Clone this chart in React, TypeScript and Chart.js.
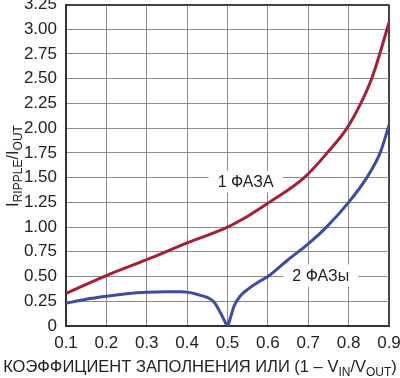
import React, { useEffect, useRef } from "react";
import { Chart, registerables } from "chart.js";
Chart.register(...registerables);

const xOnePhase = [0.1, 0.2, 0.3, 0.4, 0.5, 0.55, 0.6, 0.69, 0.747, 0.796, 0.83, 0.857, 0.877, 0.9];
const yOnePhase = [0.33, 0.51, 0.67, 0.84, 1.0, 1.11, 1.24, 1.5, 1.75, 2.0, 2.25, 2.5, 2.75, 3.07];

const xTwoPhase = [0.1, 0.15, 0.2, 0.25, 0.3, 0.35, 0.383, 0.433, 0.466, 0.483, 0.493, 0.5, 0.507, 0.516, 0.533, 0.55, 0.583, 0.6, 0.65, 0.7, 0.745, 0.8, 0.845, 0.878, 0.9];
const yTwoPhase = [0.23, 0.27, 0.3, 0.325, 0.34, 0.345, 0.345, 0.31, 0.245, 0.13, 0.05, 0.0, 0.08, 0.2, 0.31, 0.37, 0.46, 0.5, 0.67, 0.83, 1.0, 1.25, 1.5, 1.75, 2.03];

const xTickLabels = ["0.1", "0.2", "0.3", "0.4", "0.5", "0.6", "0.7", "0.8", "0.9"];
const yTickLabels = ["0", "0.25", "0.50", "0.75", "1.00", "1.25", "1.50", "1.75", "2.00", "2.25", "2.50", "2.75", "3.00", "3.25"];

const seriesLabels = ["1 ФАЗА", "2 ФАЗы"];
const labelPos = [
  { x: 0.545, y: 1.46 },
  { x: 0.731, y: 0.51 },
];

const FONT = "'Liberation Sans', Arial, sans-serif";
const NARROW = "'Liberation Sans Narrow', 'Arial Narrow', 'Liberation Sans', sans-serif";

function drawPieces(ctx: CanvasRenderingContext2D, pieces: { t: string; sub?: boolean }[], cx: number, cy: number, size: number) {
  const subSize = Math.round(size * 0.75);
  let total = 0;
  for (const p of pieces) {
    ctx.font = `${p.sub ? subSize : size}px ${FONT}`;
    total += ctx.measureText(p.t).width;
  }
  let x = cx - total / 2;
  ctx.textBaseline = "alphabetic";
  ctx.textAlign = "left";
  for (const p of pieces) {
    ctx.font = `${p.sub ? subSize : size}px ${FONT}`;
    ctx.fillText(p.t, x, cy + (p.sub ? 4 : 0));
    x += ctx.measureText(p.t).width;
  }
}

const labelPlugin = {
  id: "seriesLabels",
  beforeDatasetsDraw(chart: any) {
    const ctx = chart.ctx as CanvasRenderingContext2D;
    const xs = chart.scales.x;
    const ys = chart.scales.y;
    ctx.save();
    seriesLabels.forEach((lab, i) => {
      const px = xs.getPixelForValue(labelPos[i].x);
      const py = ys.getPixelForValue(labelPos[i].y);
      ctx.font = `16px ${FONT}`;
      const w = ctx.measureText(lab).width;
      ctx.fillStyle = "#fff";
      ctx.fillRect(px - w / 2 - 9, py - 11, w + 18, 22);
      ctx.fillStyle = "#222";
      ctx.textAlign = "center";
      ctx.textBaseline = "middle";
      ctx.fillText(lab, px, py + 1);
    });
    ctx.restore();
  },
};

const titlePlugin = {
  id: "titles",
  afterDraw(chart: any) {
    const ctx = chart.ctx as CanvasRenderingContext2D;
    ctx.save();
    ctx.fillStyle = "#222";
    drawPieces(
      ctx,
      [
        { t: "КОЭФФИЦИЕНТ ЗАПОЛНЕНИЯ ИЛИ (1 – V" },
        { t: "IN", sub: true },
        { t: "/V" },
        { t: "OUT", sub: true },
        { t: ")" },
      ],
      200,
      372,
      16.5
    );
    ctx.save();
    ctx.translate(18, 166);
    ctx.rotate(-Math.PI / 2);
    drawPieces(
      ctx,
      [{ t: "I" }, { t: "RIPPLE", sub: true }, { t: "/I" }, { t: "OUT", sub: true }],
      0,
      0,
      16.5
    );
    ctx.restore();
    ctx.restore();
  },
};

export default function App() {
  const ref = useRef<HTMLCanvasElement>(null);
  useEffect(() => {
    document.body.style.margin = "0";
    const chart = new Chart(ref.current!, {
      type: "line",
      data: {
        datasets: [
          {
            label: seriesLabels[0],
            data: xOnePhase.map((x, i) => ({ x, y: yOnePhase[i] })),
            borderColor: "#a51f38",
            borderWidth: 3,
            pointRadius: 0,
            cubicInterpolationMode: "monotone",
          },
          {
            label: seriesLabels[1],
            data: xTwoPhase.map((x, i) => ({ x, y: yTwoPhase[i] })),
            borderColor: "#3e4ba0",
            borderWidth: 3,
            pointRadius: 0,
            cubicInterpolationMode: "monotone",
          },
        ],
      },
      options: {
        animation: false,
        responsive: false,
        maintainAspectRatio: false,
        layout: { padding: { left: 0, right: 11, top: 4.5, bottom: 0 } },
        plugins: { legend: { display: false }, tooltip: { enabled: false } },
        scales: {
          x: {
            type: "linear",
            min: 0.1,
            max: 0.9,
            afterFit: (s: any) => {
              s.height = 52;
              s.paddingLeft = 0;
              s.paddingRight = 0;
            },
            ticks: {
              stepSize: 0.1,
              padding: 7,
              color: "#222",
              font: { family: NARROW, size: 17 },
              maxRotation: 0,
              callback: (v: any) => {
                const i = Math.round((Number(v) - 0.1) / 0.1);
                return xTickLabels[i] ?? "";
              },
            },
            grid: {
              drawTicks: false,
              color: (c: any) => (c.index === 8 ? "#444" : "#8c8c8c"),
              lineWidth: (c: any) => (c.index === 8 ? 2 : 1),
            },
            border: { color: "#333", width: 2 },
          },
          y: {
            type: "linear",
            min: 0,
            max: 3.25,
            afterFit: (s: any) => {
              s.width = 66;
              s.paddingTop = 0;
              s.paddingBottom = 0;
            },
            ticks: {
              stepSize: 0.25,
              padding: 9,
              color: "#222",
              font: { family: NARROW, size: 17 },
              callback: (v: any) => {
                const i = Math.round(Number(v) / 0.25);
                return yTickLabels[i] ?? "";
              },
            },
            grid: {
              drawTicks: false,
              color: (c: any) => (c.index === 13 ? "#444" : "#8c8c8c"),
              lineWidth: (c: any) => (c.index === 13 ? 2 : 1),
            },
            border: { color: "#333", width: 2 },
          },
        },
      },
      plugins: [labelPlugin, titlePlugin],
    } as any);
    return () => chart.destroy();
  }, []);
  return (
    <div style={{ width: 400, height: 378, background: "#fff" }}>
      <canvas ref={ref} width={400} height={378} style={{ display: "block" }} />
    </div>
  );
}
